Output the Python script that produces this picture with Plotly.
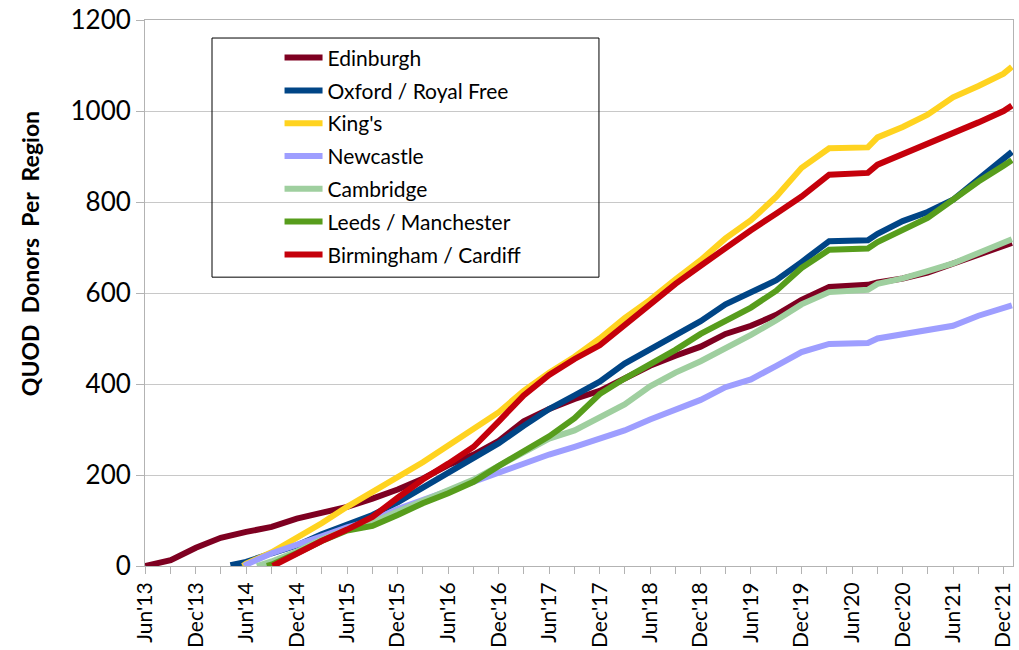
import plotly.graph_objects as go

# quarterly sample dates (plus start/end of the 2020 pause and final point)
quarter_dates = ["2013-06-01", "2013-09-01", "2013-12-01", "2014-03-01", "2014-06-01", "2014-09-01",
                 "2014-12-01", "2015-03-01", "2015-06-01", "2015-09-01", "2015-12-01", "2016-03-01",
                 "2016-06-01", "2016-09-01", "2016-12-01", "2017-03-01", "2017-06-01", "2017-09-01",
                 "2017-12-01", "2018-03-01", "2018-06-01", "2018-09-01", "2018-12-01", "2019-03-01",
                 "2019-06-01", "2019-09-01", "2019-12-01", "2020-03-10", "2020-07-28", "2020-09-01",
                 "2020-12-01", "2021-03-01", "2021-06-01", "2021-09-01", "2021-12-01", "2021-12-31"]

regions = ["Edinburgh", "Oxford / Royal Free", "King's", "Newcastle", "Cambridge",
           "Leeds / Manchester", "Birmingham / Cardiff"]
colors = ["#7e0021", "#004586", "#ffd320", "#9e9eff", "#9fcf9f", "#579d1c", "#c5000b"]

edinburgh_start = None
edinburgh_vals = [0, 13, 40, 62, 75, 86, 104, 116, 130, 148, 168, 192, 222, 245, 275, 318, 345, 367,
                  385, 412, 440, 462, 482, 510, 528, 552, 585, 613, 618, 623, 632, 645, 665, 684, 702, 710]

oxford_start = ("2014-04-05", 2)
oxford_vals = [9, 28, 45, 70, 90, 112, 140, 172, 205, 238, 270, 308, 345, 375, 405, 445, 475, 505,
               538, 575, 603, 628, 668, 714, 716, 730, 758, 778, 805, 850, 893, 910]

kings_start = ("2014-05-20", 0)
kings_vals = [5, 30, 62, 94, 130, 162, 195, 228, 265, 300, 338, 385, 425, 460, 500, 545, 585, 630,
              672, 720, 760, 812, 875, 918, 920, 942, 965, 992, 1030, 1055, 1082, 1097]

newcastle_start = ("2014-05-25", 0)
newcastle_vals = [3, 28, 45, 65, 85, 100, 125, 145, 165, 185, 205, 225, 245, 262, 280, 298, 322, 342,
                  365, 393, 410, 440, 470, 488, 490, 500, 510, 520, 528, 550, 565, 573]

cambridge_start = ("2014-07-10", 0)
cambridge_vals = [10, 32, 58, 80, 95, 120, 142, 165, 190, 220, 250, 280, 298, 325, 355, 395, 425, 450,
                  477, 508, 540, 575, 602, 607, 620, 632, 648, 665, 688, 708, 718]

leeds_start = ("2014-08-15", 0)
leeds_vals = [3, 28, 55, 78, 88, 112, 138, 160, 185, 220, 252, 285, 325, 378, 412, 443, 475, 510,
              540, 568, 605, 655, 695, 698, 712, 740, 765, 805, 845, 880, 892]

birmingham_start = ("2014-09-05", 0)
birmingham_vals = [28, 55, 80, 108, 150, 190, 225, 262, 318, 375, 420, 455, 485, 530, 575, 620, 660,
                   700, 738, 775, 812, 860, 864, 882, 905, 925, 950, 975, 1000, 1012]

y_ticks = [0, 200, 400, 600, 800, 1000, 1200]
y_title = "QUOD\u00a0 Donors\u00a0 Per\u00a0 Region"


def series(start, vals):
    dates = quarter_dates[len(quarter_dates) - len(vals):]
    if start is None:
        return list(dates), list(vals)
    return [start[0]] + list(dates), [start[1]] + list(vals)


all_series = [
    series(edinburgh_start, edinburgh_vals),
    series(oxford_start, oxford_vals),
    series(kings_start, kings_vals),
    series(newcastle_start, newcastle_vals),
    series(cambridge_start, cambridge_vals),
    series(leeds_start, leeds_vals),
    series(birmingham_start, birmingham_vals),
]

FONT = "Lato, 'Open Sans', sans-serif"

fig = go.Figure()
for name, color, (xs, ys) in zip(regions, colors, all_series):
    fig.add_trace(go.Scatter(x=xs, y=ys, mode="lines", name=name, legendgroup=name,
                             line=dict(color=color, width=6)))

fig.update_layout(
    width=1019, height=650,
    margin=dict(l=145, r=6, t=20, b=84, autoexpand=False),
    paper_bgcolor="white", plot_bgcolor="white",
    font=dict(family=FONT, color="black"),
    showlegend=True,
    legend=dict(x=0.155, y=0.968, xanchor="left", yanchor="top",
                bgcolor="rgba(0,0,0,0)", borderwidth=0,
                font=dict(size=21, family=FONT), tracegroupgap=2.5, itemwidth=38),
    shapes=[dict(type="rect", xref="paper", yref="paper",
                 x0=0.0772, x1=0.523, y0=0.529, y1=0.967,
                 line=dict(color="black", width=1), fillcolor="rgba(0,0,0,0)", layer="above")],
    annotations=[dict(text=y_title, xref="paper", yref="paper", x=-0.1325, y=0.573,
                      xanchor="center", yanchor="middle", textangle=-90, showarrow=False,
                      font=dict(size=23, family=FONT, weight="bold", color="black"))],
)

fig.update_xaxes(
    type="date", range=["2013-05-31", "2022-01-04"],
    tick0="2013-06-01", dtick="M6", tickformat="%b'%y", tickangle=-90,
    ticks="outside", ticklen=7, tickcolor="#b3b3b3", tickwidth=1,
    minor=dict(tick0="2013-06-01", dtick="M3", ticks="outside", ticklen=7,
               tickcolor="#b3b3b3", showgrid=False),
    showgrid=False, showline=True, linecolor="#b3b3b3", linewidth=1, mirror=True,
    tickfont=dict(size=21, family=FONT), zeroline=False, ticklabeloverflow="allow",
)
fig.update_yaxes(
    range=[0, 1200], tickvals=y_ticks, ticks="outside", ticklen=8, tickcolor="#b3b3b3",
    showgrid=True, gridcolor="#c8c8c8", gridwidth=1,
    showline=True, linecolor="#b3b3b3", linewidth=1, mirror=True, zeroline=False,
    tickfont=dict(size=26, family=FONT), ticklabeloverflow="allow",
)

# remove the default 8px page margin so the figure fills the window exactly
fig.write_html("out.html", config={"displayModeBar": False},
               post_script="document.body.style.margin='0';document.body.style.overflow='hidden';")
